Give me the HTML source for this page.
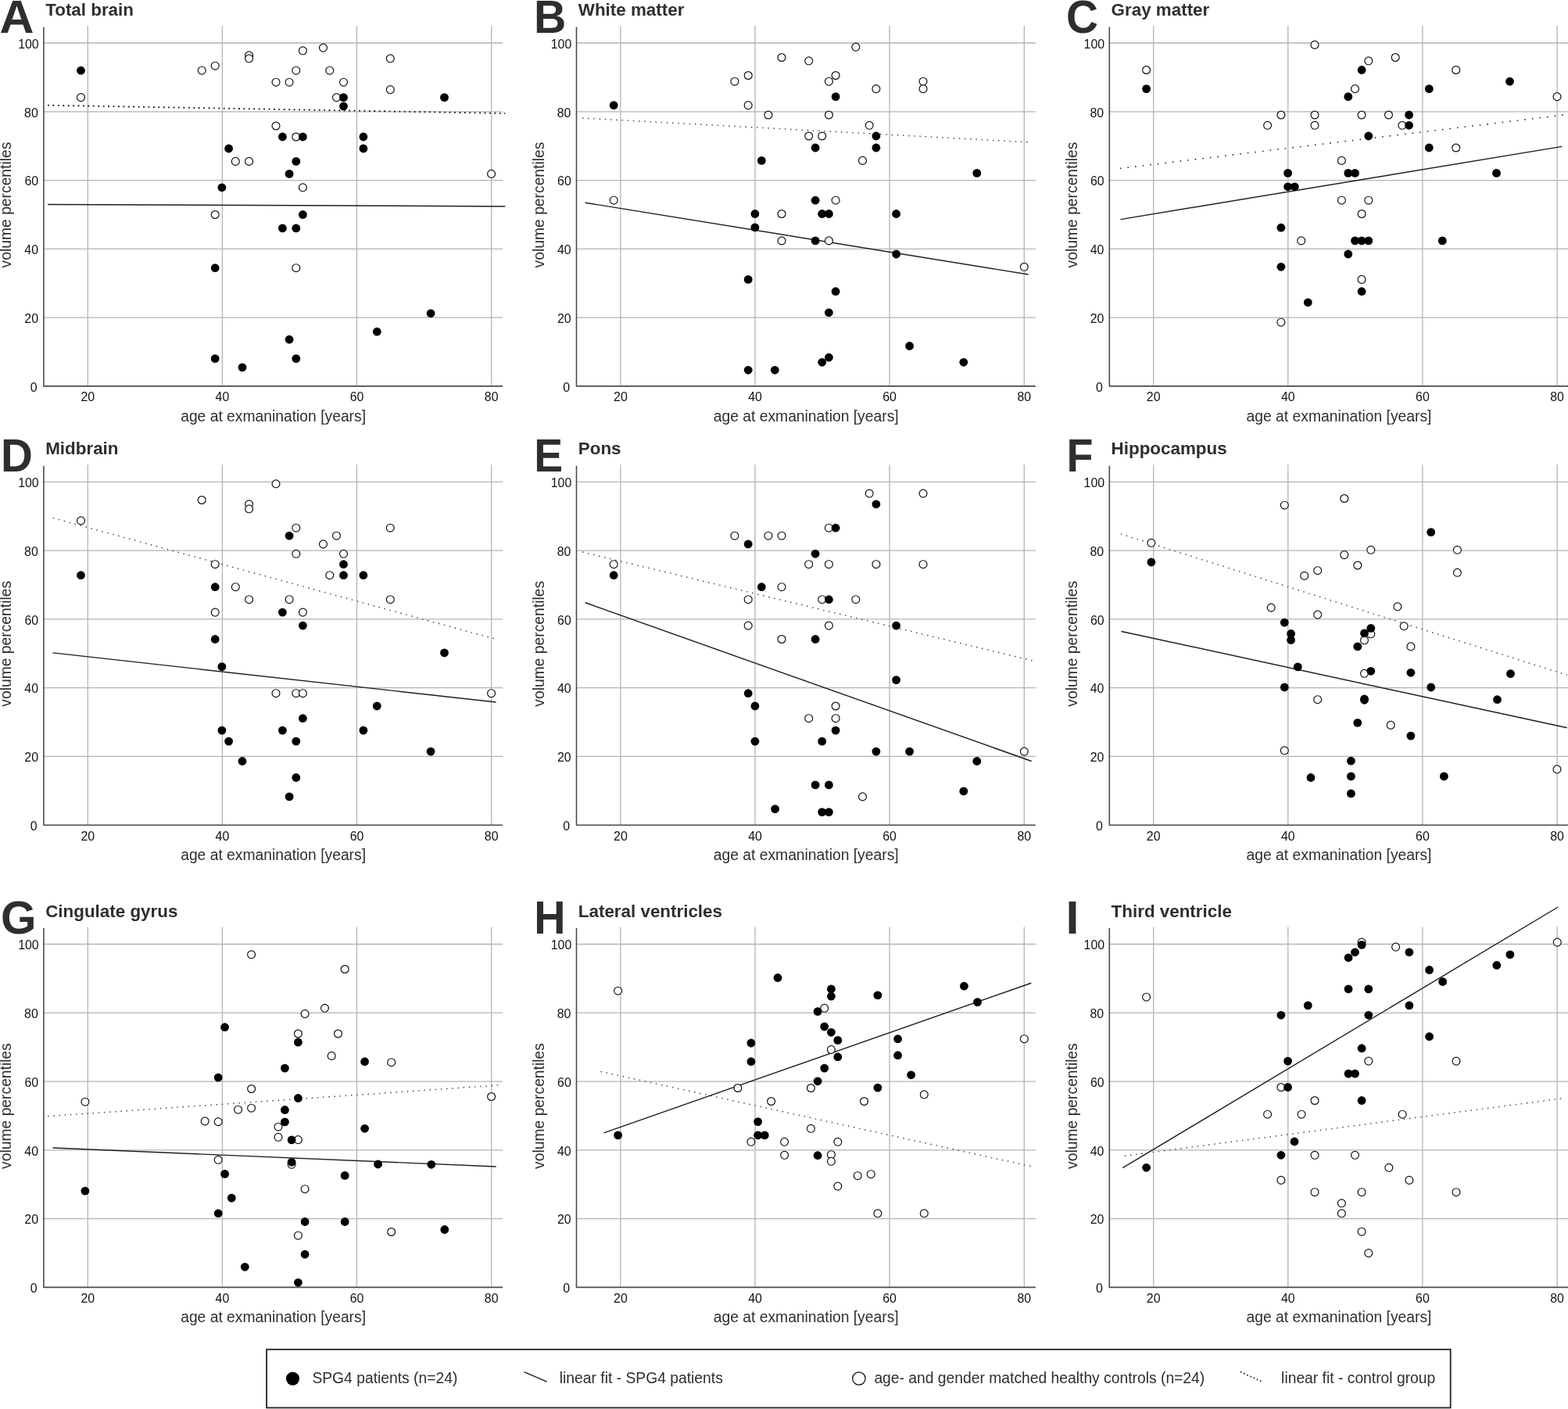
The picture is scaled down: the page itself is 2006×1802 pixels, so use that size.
<!DOCTYPE html>
<html><head><meta charset="utf-8"><title>Brain volume percentiles</title>
<style>html,body{margin:0;padding:0;background:#fff;overflow:hidden;}svg{display:block;}text{font-family:'Liberation Sans', Arial, Helvetica, sans-serif;}.lt{font-size:61px;font-weight:bold;fill:#2e2e2e;}.ti{font-size:22.4px;font-weight:bold;fill:#2e2e2e;}.tk{font-size:15.9px;fill:#111;}.at{font-size:19.3px;fill:#2e2e2e;}.lg{font-size:19.3px;fill:#2e2e2e;}.gr{stroke:#b4b4b4;stroke-width:1.3;fill:none;}.ax{stroke:#4a4a4a;stroke-width:1.6;fill:none;stroke-linejoin:round;}.fs{stroke:#1e1e1e;stroke-width:1.45;fill:none;}.fd{stroke:#4a4a4a;stroke-width:1.5;fill:none;}.mf{fill:#000;}.mo{fill:#fff;stroke:#111;stroke-width:1.2;}</style></head><body>
<svg width="2006" height="1802" viewBox="0 0 2006 1802">
<rect x="0" y="0" width="2006" height="1802" fill="#fff"/>
<g id="pA">
<text class="lt" transform="translate(-0.50 42.00) scale(0.9976 0.981)" x="0" y="0">A</text>
<text class="ti" x="58.2" y="20.0">Total brain</text>
<path class="gr" d="M55.9 406.1H643.2 M55.9 318.3H643.2 M55.9 230.6H643.2 M55.9 142.8H643.2 M55.9 55.0H643.2 M112.3 33.0V493.9 M284.4 33.0V493.9 M456.5 33.0V493.9 M628.7 33.0V493.9"/>
<path class="ax" d="M55.9 34.5V493.9H643.2"/>
<text class="tk" x="47.5" y="500.6" text-anchor="end">0</text>
<text class="tk" x="49.0" y="412.8" text-anchor="end">20</text>
<text class="tk" x="49.0" y="325.0" text-anchor="end">40</text>
<text class="tk" x="49.2" y="237.3" text-anchor="end">60</text>
<text class="tk" x="48.8" y="149.5" text-anchor="end">80</text>
<text class="tk" x="49.7" y="61.7" text-anchor="end">100</text>
<text class="tk" x="112.3" y="513.3" text-anchor="middle">20</text>
<text class="tk" x="284.4" y="513.3" text-anchor="middle">40</text>
<text class="tk" x="456.5" y="513.3" text-anchor="middle">60</text>
<text class="tk" x="628.7" y="513.3" text-anchor="middle">80</text>
<text class="at" x="349.6" y="538.8" text-anchor="middle">age at exmanination [years]</text>
<text class="at" transform="translate(14.3 262.0) rotate(-90)" text-anchor="middle">volume percentiles</text>
<path class="fs" d="M61.1 261.5L646.3 263.9"/>
<path class="fd" style="stroke:#1e1e1e;stroke-width:1.9;stroke-dasharray:1.9 4.52" d="M61.1 134.6L646.3 145.0"/>
<circle class="mo" cx="103.5" cy="124.6" r="4.95"/>
<circle class="mo" cx="258.2" cy="90.2" r="4.95"/>
<circle class="mo" cx="275.2" cy="84.2" r="4.95"/>
<circle class="mo" cx="318.6" cy="70.8" r="4.95"/>
<circle class="mo" cx="318.6" cy="74.8" r="4.95"/>
<circle class="mo" cx="353.0" cy="105.2" r="4.95"/>
<circle class="mo" cx="370.1" cy="105.2" r="4.95"/>
<circle class="mo" cx="378.8" cy="90.2" r="4.95"/>
<circle class="mo" cx="387.4" cy="64.8" r="4.95"/>
<circle class="mo" cx="413.5" cy="61.1" r="4.95"/>
<circle class="mo" cx="421.8" cy="90.2" r="4.95"/>
<circle class="mo" cx="439.5" cy="105.2" r="4.95"/>
<circle class="mo" cx="430.5" cy="124.6" r="4.95"/>
<circle class="mo" cx="499.3" cy="74.8" r="4.95"/>
<circle class="mo" cx="499.3" cy="114.6" r="4.95"/>
<circle class="mo" cx="353.0" cy="161.0" r="4.95"/>
<circle class="mo" cx="378.8" cy="175.0" r="4.95"/>
<circle class="mo" cx="301.3" cy="206.4" r="4.95"/>
<circle class="mo" cx="318.6" cy="206.4" r="4.95"/>
<circle class="mo" cx="387.4" cy="239.8" r="4.95"/>
<circle class="mo" cx="275.2" cy="274.5" r="4.95"/>
<circle class="mo" cx="378.8" cy="342.7" r="4.95"/>
<circle class="mo" cx="628.6" cy="222.4" r="4.95"/>
<circle class="mf" cx="103.5" cy="90.2" r="5.4"/>
<circle class="mf" cx="283.9" cy="239.8" r="5.4"/>
<circle class="mf" cx="292.6" cy="190.0" r="5.4"/>
<circle class="mf" cx="275.2" cy="342.7" r="5.4"/>
<circle class="mf" cx="275.2" cy="458.6" r="5.4"/>
<circle class="mf" cx="310.0" cy="469.9" r="5.4"/>
<circle class="mf" cx="361.4" cy="175.0" r="5.4"/>
<circle class="mf" cx="387.4" cy="175.0" r="5.4"/>
<circle class="mf" cx="378.8" cy="206.4" r="5.4"/>
<circle class="mf" cx="370.1" cy="222.4" r="5.4"/>
<circle class="mf" cx="387.4" cy="274.5" r="5.4"/>
<circle class="mf" cx="361.4" cy="291.9" r="5.4"/>
<circle class="mf" cx="378.8" cy="291.9" r="5.4"/>
<circle class="mf" cx="378.8" cy="458.6" r="5.4"/>
<circle class="mf" cx="370.1" cy="434.2" r="5.4"/>
<circle class="mf" cx="439.5" cy="124.6" r="5.4"/>
<circle class="mf" cx="439.5" cy="135.9" r="5.4"/>
<circle class="mf" cx="464.9" cy="175.0" r="5.4"/>
<circle class="mf" cx="464.9" cy="190.0" r="5.4"/>
<circle class="mf" cx="482.3" cy="424.2" r="5.4"/>
<circle class="mf" cx="551.1" cy="400.8" r="5.4"/>
<circle class="mf" cx="568.5" cy="124.6" r="5.4"/>
</g>
<g id="pB">
<text class="lt" transform="translate(682.94 42.00) scale(0.9382 0.981)" x="0" y="0">B</text>
<text class="ti" x="739.8" y="20.0">White matter</text>
<path class="gr" d="M737.5 406.1H1324.8 M737.5 318.3H1324.8 M737.5 230.6H1324.8 M737.5 142.8H1324.8 M737.5 55.0H1324.8 M793.9 33.0V493.9 M966.0 33.0V493.9 M1138.1 33.0V493.9 M1310.3 33.0V493.9"/>
<path class="ax" d="M737.5 34.5V493.9H1324.8"/>
<text class="tk" x="729.1" y="500.6" text-anchor="end">0</text>
<text class="tk" x="730.6" y="412.8" text-anchor="end">20</text>
<text class="tk" x="730.6" y="325.0" text-anchor="end">40</text>
<text class="tk" x="730.8" y="237.3" text-anchor="end">60</text>
<text class="tk" x="730.4" y="149.5" text-anchor="end">80</text>
<text class="tk" x="731.3" y="61.7" text-anchor="end">100</text>
<text class="tk" x="793.9" y="513.3" text-anchor="middle">20</text>
<text class="tk" x="966.0" y="513.3" text-anchor="middle">40</text>
<text class="tk" x="1138.1" y="513.3" text-anchor="middle">60</text>
<text class="tk" x="1310.3" y="513.3" text-anchor="middle">80</text>
<text class="at" x="1031.2" y="538.8" text-anchor="middle">age at exmanination [years]</text>
<text class="at" transform="translate(695.9 262.0) rotate(-90)" text-anchor="middle">volume percentiles</text>
<path class="fs" d="M748.5 259.2L1315.6 351.0"/>
<path class="fd" style="stroke:#4a4a4a;stroke-width:1.5;stroke-dasharray:1.5 5.70" d="M745.1 151.0L1317.9 182.0"/>
<circle class="mo" cx="785.2" cy="256.2" r="4.95"/>
<circle class="mo" cx="939.9" cy="104.2" r="4.95"/>
<circle class="mo" cx="957.2" cy="96.5" r="4.95"/>
<circle class="mo" cx="957.2" cy="134.6" r="4.95"/>
<circle class="mo" cx="982.9" cy="147.0" r="4.95"/>
<circle class="mo" cx="1000.0" cy="73.5" r="4.95"/>
<circle class="mo" cx="1000.0" cy="273.5" r="4.95"/>
<circle class="mo" cx="1000.0" cy="307.9" r="4.95"/>
<circle class="mo" cx="1034.7" cy="77.8" r="4.95"/>
<circle class="mo" cx="1034.7" cy="174.0" r="4.95"/>
<circle class="mo" cx="1051.7" cy="174.0" r="4.95"/>
<circle class="mo" cx="1060.4" cy="104.2" r="4.95"/>
<circle class="mo" cx="1069.1" cy="96.5" r="4.95"/>
<circle class="mo" cx="1060.4" cy="147.0" r="4.95"/>
<circle class="mo" cx="1069.1" cy="256.2" r="4.95"/>
<circle class="mo" cx="1060.4" cy="307.9" r="4.95"/>
<circle class="mo" cx="1094.8" cy="60.1" r="4.95"/>
<circle class="mo" cx="1103.5" cy="205.4" r="4.95"/>
<circle class="mo" cx="1112.2" cy="160.3" r="4.95"/>
<circle class="mo" cx="1120.9" cy="113.6" r="4.95"/>
<circle class="mo" cx="1181.0" cy="104.2" r="4.95"/>
<circle class="mo" cx="1181.0" cy="113.6" r="4.95"/>
<circle class="mo" cx="1310.3" cy="341.3" r="4.95"/>
<circle class="mf" cx="785.2" cy="134.6" r="5.4"/>
<circle class="mf" cx="957.2" cy="357.4" r="5.4"/>
<circle class="mf" cx="957.2" cy="473.3" r="5.4"/>
<circle class="mf" cx="991.3" cy="473.3" r="5.4"/>
<circle class="mf" cx="965.9" cy="273.5" r="5.4"/>
<circle class="mf" cx="965.9" cy="290.9" r="5.4"/>
<circle class="mf" cx="974.3" cy="205.4" r="5.4"/>
<circle class="mf" cx="1043.1" cy="189.0" r="5.4"/>
<circle class="mf" cx="1043.1" cy="256.2" r="5.4"/>
<circle class="mf" cx="1043.1" cy="307.9" r="5.4"/>
<circle class="mf" cx="1051.7" cy="273.5" r="5.4"/>
<circle class="mf" cx="1060.4" cy="273.5" r="5.4"/>
<circle class="mf" cx="1069.1" cy="123.6" r="5.4"/>
<circle class="mf" cx="1069.1" cy="372.7" r="5.4"/>
<circle class="mf" cx="1060.4" cy="399.8" r="5.4"/>
<circle class="mf" cx="1060.4" cy="457.2" r="5.4"/>
<circle class="mf" cx="1051.7" cy="463.3" r="5.4"/>
<circle class="mf" cx="1120.9" cy="174.0" r="5.4"/>
<circle class="mf" cx="1120.9" cy="189.0" r="5.4"/>
<circle class="mf" cx="1146.6" cy="273.5" r="5.4"/>
<circle class="mf" cx="1146.6" cy="325.0" r="5.4"/>
<circle class="mf" cx="1163.6" cy="442.5" r="5.4"/>
<circle class="mf" cx="1232.8" cy="463.3" r="5.4"/>
<circle class="mf" cx="1249.8" cy="221.4" r="5.4"/>
</g>
<g id="pC">
<text class="lt" transform="translate(1364.08 42.00) scale(0.9295 0.981)" x="0" y="0">C</text>
<text class="ti" x="1421.6" y="20.0">Gray matter</text>
<path class="gr" d="M1419.3 406.1H2006.6 M1419.3 318.3H2006.6 M1419.3 230.6H2006.6 M1419.3 142.8H2006.6 M1419.3 55.0H2006.6 M1475.7 33.0V493.9 M1647.8 33.0V493.9 M1819.9 33.0V493.9 M1992.1 33.0V493.9"/>
<path class="ax" d="M1419.3 34.5V493.9H2006.6"/>
<text class="tk" x="1410.9" y="500.6" text-anchor="end">0</text>
<text class="tk" x="1412.4" y="412.8" text-anchor="end">20</text>
<text class="tk" x="1412.4" y="325.0" text-anchor="end">40</text>
<text class="tk" x="1412.6" y="237.3" text-anchor="end">60</text>
<text class="tk" x="1412.2" y="149.5" text-anchor="end">80</text>
<text class="tk" x="1413.1" y="61.7" text-anchor="end">100</text>
<text class="tk" x="1475.7" y="513.3" text-anchor="middle">20</text>
<text class="tk" x="1647.8" y="513.3" text-anchor="middle">40</text>
<text class="tk" x="1819.9" y="513.3" text-anchor="middle">60</text>
<text class="tk" x="1992.1" y="513.3" text-anchor="middle">80</text>
<text class="at" x="1713.0" y="538.8" text-anchor="middle">age at exmanination [years]</text>
<text class="at" transform="translate(1377.7 262.0) rotate(-90)" text-anchor="middle">volume percentiles</text>
<path class="fs" d="M1433.5 280.6L1998.3 187.4"/>
<path class="fd" style="stroke:#2a2a2a;stroke-width:1.6;stroke-dasharray:1.6 8.05" d="M1432.9 215.4L2000.7 147.0"/>
<circle class="mo" cx="1466.6" cy="89.5" r="4.95"/>
<circle class="mo" cx="1621.6" cy="160.3" r="4.95"/>
<circle class="mo" cx="1638.9" cy="147.0" r="4.95"/>
<circle class="mo" cx="1638.9" cy="412.2" r="4.95"/>
<circle class="mo" cx="1664.7" cy="307.9" r="4.95"/>
<circle class="mo" cx="1682.0" cy="57.4" r="4.95"/>
<circle class="mo" cx="1682.0" cy="147.0" r="4.95"/>
<circle class="mo" cx="1682.0" cy="160.3" r="4.95"/>
<circle class="mo" cx="1716.4" cy="205.4" r="4.95"/>
<circle class="mo" cx="1716.4" cy="256.2" r="4.95"/>
<circle class="mo" cx="1733.5" cy="113.6" r="4.95"/>
<circle class="mo" cx="1742.1" cy="147.0" r="4.95"/>
<circle class="mo" cx="1742.1" cy="273.5" r="4.95"/>
<circle class="mo" cx="1742.1" cy="357.4" r="4.95"/>
<circle class="mo" cx="1750.8" cy="77.8" r="4.95"/>
<circle class="mo" cx="1750.8" cy="256.2" r="4.95"/>
<circle class="mo" cx="1776.5" cy="147.0" r="4.95"/>
<circle class="mo" cx="1785.2" cy="73.5" r="4.95"/>
<circle class="mo" cx="1793.9" cy="160.3" r="4.95"/>
<circle class="mo" cx="1862.7" cy="89.5" r="4.95"/>
<circle class="mo" cx="1862.7" cy="189.0" r="4.95"/>
<circle class="mo" cx="1992.0" cy="123.6" r="4.95"/>
<circle class="mf" cx="1466.6" cy="113.6" r="5.4"/>
<circle class="mf" cx="1638.9" cy="291.2" r="5.4"/>
<circle class="mf" cx="1638.9" cy="341.3" r="5.4"/>
<circle class="mf" cx="1647.6" cy="221.4" r="5.4"/>
<circle class="mf" cx="1647.6" cy="238.8" r="5.4"/>
<circle class="mf" cx="1656.3" cy="238.8" r="5.4"/>
<circle class="mf" cx="1673.3" cy="386.8" r="5.4"/>
<circle class="mf" cx="1724.8" cy="123.6" r="5.4"/>
<circle class="mf" cx="1724.8" cy="221.4" r="5.4"/>
<circle class="mf" cx="1733.5" cy="221.4" r="5.4"/>
<circle class="mf" cx="1724.8" cy="325.0" r="5.4"/>
<circle class="mf" cx="1733.5" cy="307.9" r="5.4"/>
<circle class="mf" cx="1742.1" cy="307.9" r="5.4"/>
<circle class="mf" cx="1750.8" cy="307.9" r="5.4"/>
<circle class="mf" cx="1742.1" cy="89.5" r="5.4"/>
<circle class="mf" cx="1750.8" cy="174.0" r="5.4"/>
<circle class="mf" cx="1742.1" cy="372.7" r="5.4"/>
<circle class="mf" cx="1802.6" cy="147.0" r="5.4"/>
<circle class="mf" cx="1802.6" cy="160.3" r="5.4"/>
<circle class="mf" cx="1828.3" cy="113.6" r="5.4"/>
<circle class="mf" cx="1828.3" cy="189.0" r="5.4"/>
<circle class="mf" cx="1845.3" cy="307.9" r="5.4"/>
<circle class="mf" cx="1914.5" cy="221.4" r="5.4"/>
<circle class="mf" cx="1931.5" cy="104.2" r="5.4"/>
</g>
<g id="pD">
<text class="lt" transform="translate(1.00 603.30) scale(0.9278 0.981)" x="0" y="0">D</text>
<text class="ti" x="58.2" y="581.3">Midbrain</text>
<path class="gr" d="M55.9 967.4H643.2 M55.9 879.6H643.2 M55.9 791.9H643.2 M55.9 704.1H643.2 M55.9 616.3H643.2 M112.3 594.3V1055.2 M284.4 594.3V1055.2 M456.5 594.3V1055.2 M628.7 594.3V1055.2"/>
<path class="ax" d="M55.9 595.8V1055.2H643.2"/>
<text class="tk" x="47.5" y="1061.9" text-anchor="end">0</text>
<text class="tk" x="49.0" y="974.1" text-anchor="end">20</text>
<text class="tk" x="49.0" y="886.3" text-anchor="end">40</text>
<text class="tk" x="49.2" y="798.6" text-anchor="end">60</text>
<text class="tk" x="48.8" y="710.8" text-anchor="end">80</text>
<text class="tk" x="49.7" y="623.0" text-anchor="end">100</text>
<text class="tk" x="112.3" y="1074.6" text-anchor="middle">20</text>
<text class="tk" x="284.4" y="1074.6" text-anchor="middle">40</text>
<text class="tk" x="456.5" y="1074.6" text-anchor="middle">60</text>
<text class="tk" x="628.7" y="1074.6" text-anchor="middle">80</text>
<text class="at" x="349.6" y="1100.1" text-anchor="middle">age at exmanination [years]</text>
<text class="at" transform="translate(14.3 823.3) rotate(-90)" text-anchor="middle">volume percentiles</text>
<path class="fs" d="M67.5 834.9L634.6 898.0"/>
<path class="fd" style="stroke:#4a4a4a;stroke-width:1.5;stroke-dasharray:1.5 5.70" d="M67.8 662.5L634.6 817.5"/>
<circle class="mo" cx="103.5" cy="665.9" r="4.95"/>
<circle class="mo" cx="258.2" cy="639.5" r="4.95"/>
<circle class="mo" cx="275.2" cy="721.7" r="4.95"/>
<circle class="mo" cx="275.2" cy="783.1" r="4.95"/>
<circle class="mo" cx="301.3" cy="750.7" r="4.95"/>
<circle class="mo" cx="318.6" cy="644.8" r="4.95"/>
<circle class="mo" cx="318.6" cy="650.8" r="4.95"/>
<circle class="mo" cx="318.6" cy="766.7" r="4.95"/>
<circle class="mo" cx="353.0" cy="618.8" r="4.95"/>
<circle class="mo" cx="353.0" cy="886.7" r="4.95"/>
<circle class="mo" cx="370.1" cy="766.7" r="4.95"/>
<circle class="mo" cx="378.8" cy="675.2" r="4.95"/>
<circle class="mo" cx="378.8" cy="708.3" r="4.95"/>
<circle class="mo" cx="378.8" cy="886.7" r="4.95"/>
<circle class="mo" cx="387.4" cy="783.1" r="4.95"/>
<circle class="mo" cx="387.4" cy="886.7" r="4.95"/>
<circle class="mo" cx="413.5" cy="695.9" r="4.95"/>
<circle class="mo" cx="421.8" cy="735.7" r="4.95"/>
<circle class="mo" cx="430.5" cy="685.2" r="4.95"/>
<circle class="mo" cx="439.5" cy="708.3" r="4.95"/>
<circle class="mo" cx="499.3" cy="675.2" r="4.95"/>
<circle class="mo" cx="499.3" cy="766.7" r="4.95"/>
<circle class="mo" cx="628.6" cy="886.7" r="4.95"/>
<circle class="mf" cx="103.5" cy="735.7" r="5.4"/>
<circle class="mf" cx="275.2" cy="750.7" r="5.4"/>
<circle class="mf" cx="275.2" cy="817.5" r="5.4"/>
<circle class="mf" cx="283.9" cy="852.6" r="5.4"/>
<circle class="mf" cx="283.9" cy="934.1" r="5.4"/>
<circle class="mf" cx="292.6" cy="948.1" r="5.4"/>
<circle class="mf" cx="310.0" cy="973.5" r="5.4"/>
<circle class="mf" cx="361.4" cy="783.1" r="5.4"/>
<circle class="mf" cx="361.4" cy="934.1" r="5.4"/>
<circle class="mf" cx="370.1" cy="685.2" r="5.4"/>
<circle class="mf" cx="370.1" cy="1018.9" r="5.4"/>
<circle class="mf" cx="378.8" cy="948.1" r="5.4"/>
<circle class="mf" cx="378.8" cy="994.5" r="5.4"/>
<circle class="mf" cx="387.4" cy="800.1" r="5.4"/>
<circle class="mf" cx="387.4" cy="918.7" r="5.4"/>
<circle class="mf" cx="439.5" cy="721.7" r="5.4"/>
<circle class="mf" cx="439.5" cy="735.7" r="5.4"/>
<circle class="mf" cx="464.9" cy="735.7" r="5.4"/>
<circle class="mf" cx="464.9" cy="934.1" r="5.4"/>
<circle class="mf" cx="482.3" cy="903.0" r="5.4"/>
<circle class="mf" cx="551.1" cy="961.1" r="5.4"/>
<circle class="mf" cx="568.5" cy="834.9" r="5.4"/>
</g>
<g id="pE">
<text class="lt" transform="translate(683.26 603.30) scale(0.9067 0.981)" x="0" y="0">E</text>
<text class="ti" x="739.8" y="581.3">Pons</text>
<path class="gr" d="M737.5 967.4H1324.8 M737.5 879.6H1324.8 M737.5 791.9H1324.8 M737.5 704.1H1324.8 M737.5 616.3H1324.8 M793.9 594.3V1055.2 M966.0 594.3V1055.2 M1138.1 594.3V1055.2 M1310.3 594.3V1055.2"/>
<path class="ax" d="M737.5 595.8V1055.2H1324.8"/>
<text class="tk" x="729.1" y="1061.9" text-anchor="end">0</text>
<text class="tk" x="730.6" y="974.1" text-anchor="end">20</text>
<text class="tk" x="730.6" y="886.3" text-anchor="end">40</text>
<text class="tk" x="730.8" y="798.6" text-anchor="end">60</text>
<text class="tk" x="730.4" y="710.8" text-anchor="end">80</text>
<text class="tk" x="731.3" y="623.0" text-anchor="end">100</text>
<text class="tk" x="793.9" y="1074.6" text-anchor="middle">20</text>
<text class="tk" x="966.0" y="1074.6" text-anchor="middle">40</text>
<text class="tk" x="1138.1" y="1074.6" text-anchor="middle">60</text>
<text class="tk" x="1310.3" y="1074.6" text-anchor="middle">80</text>
<text class="at" x="1031.2" y="1100.1" text-anchor="middle">age at exmanination [years]</text>
<text class="at" transform="translate(695.9 823.3) rotate(-90)" text-anchor="middle">volume percentiles</text>
<path class="fs" d="M748.8 770.8L1319.6 973.5"/>
<path class="fd" style="stroke:#4a4a4a;stroke-width:1.5;stroke-dasharray:1.5 5.70" d="M745.1 706.0L1323.9 845.6"/>
<circle class="mo" cx="785.2" cy="721.7" r="4.95"/>
<circle class="mo" cx="939.9" cy="685.2" r="4.95"/>
<circle class="mo" cx="957.2" cy="766.7" r="4.95"/>
<circle class="mo" cx="957.2" cy="800.1" r="4.95"/>
<circle class="mo" cx="982.9" cy="685.2" r="4.95"/>
<circle class="mo" cx="1000.0" cy="685.2" r="4.95"/>
<circle class="mo" cx="1000.0" cy="750.7" r="4.95"/>
<circle class="mo" cx="1000.0" cy="817.5" r="4.95"/>
<circle class="mo" cx="1034.7" cy="721.7" r="4.95"/>
<circle class="mo" cx="1034.7" cy="918.7" r="4.95"/>
<circle class="mo" cx="1051.7" cy="766.7" r="4.95"/>
<circle class="mo" cx="1060.4" cy="675.2" r="4.95"/>
<circle class="mo" cx="1060.4" cy="721.7" r="4.95"/>
<circle class="mo" cx="1060.4" cy="800.1" r="4.95"/>
<circle class="mo" cx="1069.1" cy="903.0" r="4.95"/>
<circle class="mo" cx="1069.1" cy="918.7" r="4.95"/>
<circle class="mo" cx="1094.8" cy="766.7" r="4.95"/>
<circle class="mo" cx="1103.5" cy="1018.9" r="4.95"/>
<circle class="mo" cx="1112.2" cy="631.1" r="4.95"/>
<circle class="mo" cx="1120.9" cy="721.7" r="4.95"/>
<circle class="mo" cx="1181.0" cy="631.1" r="4.95"/>
<circle class="mo" cx="1181.0" cy="721.7" r="4.95"/>
<circle class="mo" cx="1310.3" cy="961.1" r="4.95"/>
<circle class="mf" cx="785.2" cy="735.7" r="5.4"/>
<circle class="mf" cx="957.2" cy="695.9" r="5.4"/>
<circle class="mf" cx="957.2" cy="886.7" r="5.4"/>
<circle class="mf" cx="965.9" cy="903.0" r="5.4"/>
<circle class="mf" cx="965.9" cy="948.1" r="5.4"/>
<circle class="mf" cx="974.3" cy="750.7" r="5.4"/>
<circle class="mf" cx="991.6" cy="1034.6" r="5.4"/>
<circle class="mf" cx="1043.1" cy="708.3" r="5.4"/>
<circle class="mf" cx="1043.1" cy="817.5" r="5.4"/>
<circle class="mf" cx="1043.1" cy="1003.9" r="5.4"/>
<circle class="mf" cx="1051.7" cy="948.1" r="5.4"/>
<circle class="mf" cx="1051.7" cy="1038.6" r="5.4"/>
<circle class="mf" cx="1060.4" cy="766.7" r="5.4"/>
<circle class="mf" cx="1060.4" cy="1003.9" r="5.4"/>
<circle class="mf" cx="1060.4" cy="1038.6" r="5.4"/>
<circle class="mf" cx="1069.1" cy="675.2" r="5.4"/>
<circle class="mf" cx="1069.1" cy="934.1" r="5.4"/>
<circle class="mf" cx="1120.9" cy="644.8" r="5.4"/>
<circle class="mf" cx="1120.9" cy="961.1" r="5.4"/>
<circle class="mf" cx="1146.6" cy="800.1" r="5.4"/>
<circle class="mf" cx="1146.6" cy="869.6" r="5.4"/>
<circle class="mf" cx="1163.6" cy="961.1" r="5.4"/>
<circle class="mf" cx="1232.8" cy="1011.9" r="5.4"/>
<circle class="mf" cx="1249.8" cy="973.5" r="5.4"/>
</g>
<g id="pF">
<text class="lt" transform="translate(1364.56 603.30) scale(0.9129 0.981)" x="0" y="0">F</text>
<text class="ti" x="1421.6" y="581.3">Hippocampus</text>
<path class="gr" d="M1419.3 967.4H2006.6 M1419.3 879.6H2006.6 M1419.3 791.9H2006.6 M1419.3 704.1H2006.6 M1419.3 616.3H2006.6 M1475.7 594.3V1055.2 M1647.8 594.3V1055.2 M1819.9 594.3V1055.2 M1992.1 594.3V1055.2"/>
<path class="ax" d="M1419.3 595.8V1055.2H2006.6"/>
<text class="tk" x="1410.9" y="1061.9" text-anchor="end">0</text>
<text class="tk" x="1412.4" y="974.1" text-anchor="end">20</text>
<text class="tk" x="1412.4" y="886.3" text-anchor="end">40</text>
<text class="tk" x="1412.6" y="798.6" text-anchor="end">60</text>
<text class="tk" x="1412.2" y="710.8" text-anchor="end">80</text>
<text class="tk" x="1413.1" y="623.0" text-anchor="end">100</text>
<text class="tk" x="1475.7" y="1074.6" text-anchor="middle">20</text>
<text class="tk" x="1647.8" y="1074.6" text-anchor="middle">40</text>
<text class="tk" x="1819.9" y="1074.6" text-anchor="middle">60</text>
<text class="tk" x="1992.1" y="1074.6" text-anchor="middle">80</text>
<text class="at" x="1713.0" y="1100.1" text-anchor="middle">age at exmanination [years]</text>
<text class="at" transform="translate(1377.7 823.3) rotate(-90)" text-anchor="middle">volume percentiles</text>
<path class="fs" d="M1434.5 807.5L2004.7 930.7"/>
<path class="fd" style="stroke:#4a4a4a;stroke-width:1.5;stroke-dasharray:1.5 5.70" d="M1433.9 682.9L2004.7 863.3"/>
<circle class="mo" cx="1472.9" cy="694.3" r="4.95"/>
<circle class="mo" cx="1626.2" cy="777.1" r="4.95"/>
<circle class="mo" cx="1643.3" cy="646.2" r="4.95"/>
<circle class="mo" cx="1643.3" cy="959.8" r="4.95"/>
<circle class="mo" cx="1668.7" cy="736.4" r="4.95"/>
<circle class="mo" cx="1685.7" cy="729.7" r="4.95"/>
<circle class="mo" cx="1685.7" cy="786.1" r="4.95"/>
<circle class="mo" cx="1685.7" cy="894.7" r="4.95"/>
<circle class="mo" cx="1719.8" cy="637.5" r="4.95"/>
<circle class="mo" cx="1719.8" cy="709.6" r="4.95"/>
<circle class="mo" cx="1736.8" cy="723.0" r="4.95"/>
<circle class="mo" cx="1745.5" cy="818.8" r="4.95"/>
<circle class="mo" cx="1745.5" cy="861.3" r="4.95"/>
<circle class="mo" cx="1753.8" cy="703.3" r="4.95"/>
<circle class="mo" cx="1753.8" cy="810.8" r="4.95"/>
<circle class="mo" cx="1779.2" cy="927.4" r="4.95"/>
<circle class="mo" cx="1787.9" cy="775.8" r="4.95"/>
<circle class="mo" cx="1796.2" cy="800.8" r="4.95"/>
<circle class="mo" cx="1804.9" cy="826.9" r="4.95"/>
<circle class="mo" cx="1864.4" cy="703.3" r="4.95"/>
<circle class="mo" cx="1864.4" cy="732.3" r="4.95"/>
<circle class="mo" cx="1992.0" cy="983.8" r="4.95"/>
<circle class="mf" cx="1472.9" cy="719.0" r="5.4"/>
<circle class="mf" cx="1643.3" cy="796.1" r="5.4"/>
<circle class="mf" cx="1651.6" cy="810.5" r="5.4"/>
<circle class="mf" cx="1651.6" cy="818.5" r="5.4"/>
<circle class="mf" cx="1643.3" cy="879.0" r="5.4"/>
<circle class="mf" cx="1660.3" cy="852.9" r="5.4"/>
<circle class="mf" cx="1677.0" cy="994.5" r="5.4"/>
<circle class="mf" cx="1728.4" cy="973.2" r="5.4"/>
<circle class="mf" cx="1728.4" cy="992.9" r="5.4"/>
<circle class="mf" cx="1728.4" cy="1014.9" r="5.4"/>
<circle class="mf" cx="1736.8" cy="826.9" r="5.4"/>
<circle class="mf" cx="1736.8" cy="924.4" r="5.4"/>
<circle class="mf" cx="1745.5" cy="809.8" r="5.4"/>
<circle class="mf" cx="1745.5" cy="894.0" r="5.4"/>
<circle class="mf" cx="1745.5" cy="895.3" r="5.4"/>
<circle class="mf" cx="1753.8" cy="803.5" r="5.4"/>
<circle class="mf" cx="1753.8" cy="858.3" r="5.4"/>
<circle class="mf" cx="1804.9" cy="860.3" r="5.4"/>
<circle class="mf" cx="1804.9" cy="941.1" r="5.4"/>
<circle class="mf" cx="1830.7" cy="680.6" r="5.4"/>
<circle class="mf" cx="1830.7" cy="879.0" r="5.4"/>
<circle class="mf" cx="1847.4" cy="992.9" r="5.4"/>
<circle class="mf" cx="1915.5" cy="894.7" r="5.4"/>
<circle class="mf" cx="1932.5" cy="861.6" r="5.4"/>
</g>
<g id="pG">
<text class="lt" transform="translate(1.10 1194.30) scale(0.9587 0.981)" x="0" y="0">G</text>
<text class="ti" x="58.2" y="1172.5">Cingulate gyrus</text>
<path class="gr" d="M55.9 1558.6H643.2 M55.9 1470.8H643.2 M55.9 1383.1H643.2 M55.9 1295.3H643.2 M55.9 1207.5H643.2 M112.3 1185.5V1646.4 M284.4 1185.5V1646.4 M456.5 1185.5V1646.4 M628.7 1185.5V1646.4"/>
<path class="ax" d="M55.9 1187.0V1646.4H643.2"/>
<text class="tk" x="47.5" y="1653.1" text-anchor="end">0</text>
<text class="tk" x="49.0" y="1565.3" text-anchor="end">20</text>
<text class="tk" x="49.0" y="1477.5" text-anchor="end">40</text>
<text class="tk" x="49.2" y="1389.8" text-anchor="end">60</text>
<text class="tk" x="48.8" y="1302.0" text-anchor="end">80</text>
<text class="tk" x="49.7" y="1214.2" text-anchor="end">100</text>
<text class="tk" x="112.3" y="1665.8" text-anchor="middle">20</text>
<text class="tk" x="284.4" y="1665.8" text-anchor="middle">40</text>
<text class="tk" x="456.5" y="1665.8" text-anchor="middle">60</text>
<text class="tk" x="628.7" y="1665.8" text-anchor="middle">80</text>
<text class="at" x="349.6" y="1691.3" text-anchor="middle">age at exmanination [years]</text>
<text class="at" transform="translate(14.3 1414.5) rotate(-90)" text-anchor="middle">volume percentiles</text>
<path class="fs" d="M67.5 1468.0L634.6 1492.0"/>
<path class="fd" style="stroke:#4a4a4a;stroke-width:1.5;stroke-dasharray:1.5 5.70" d="M61.1 1427.6L638.6 1387.8"/>
<circle class="mo" cx="108.9" cy="1409.2" r="4.95"/>
<circle class="mo" cx="262.2" cy="1433.9" r="4.95"/>
<circle class="mo" cx="279.2" cy="1434.6" r="4.95"/>
<circle class="mo" cx="279.2" cy="1483.3" r="4.95"/>
<circle class="mo" cx="304.6" cy="1419.2" r="4.95"/>
<circle class="mo" cx="321.6" cy="1220.8" r="4.95"/>
<circle class="mo" cx="321.6" cy="1392.5" r="4.95"/>
<circle class="mo" cx="321.6" cy="1417.2" r="4.95"/>
<circle class="mo" cx="356.0" cy="1441.2" r="4.95"/>
<circle class="mo" cx="356.0" cy="1454.3" r="4.95"/>
<circle class="mo" cx="373.1" cy="1489.3" r="4.95"/>
<circle class="mo" cx="381.4" cy="1322.0" r="4.95"/>
<circle class="mo" cx="381.4" cy="1457.6" r="4.95"/>
<circle class="mo" cx="381.4" cy="1580.2" r="4.95"/>
<circle class="mo" cx="390.1" cy="1296.6" r="4.95"/>
<circle class="mo" cx="390.1" cy="1520.7" r="4.95"/>
<circle class="mo" cx="415.5" cy="1289.3" r="4.95"/>
<circle class="mo" cx="424.2" cy="1350.4" r="4.95"/>
<circle class="mo" cx="432.5" cy="1322.0" r="4.95"/>
<circle class="mo" cx="441.2" cy="1239.5" r="4.95"/>
<circle class="mo" cx="500.7" cy="1358.7" r="4.95"/>
<circle class="mo" cx="500.7" cy="1575.5" r="4.95"/>
<circle class="mo" cx="628.6" cy="1402.5" r="4.95"/>
<circle class="mf" cx="108.9" cy="1523.1" r="5.4"/>
<circle class="mf" cx="279.2" cy="1378.1" r="5.4"/>
<circle class="mf" cx="279.2" cy="1551.8" r="5.4"/>
<circle class="mf" cx="287.6" cy="1313.7" r="5.4"/>
<circle class="mf" cx="287.6" cy="1501.4" r="5.4"/>
<circle class="mf" cx="296.3" cy="1532.1" r="5.4"/>
<circle class="mf" cx="313.3" cy="1620.3" r="5.4"/>
<circle class="mf" cx="364.4" cy="1366.1" r="5.4"/>
<circle class="mf" cx="364.4" cy="1419.5" r="5.4"/>
<circle class="mf" cx="364.4" cy="1434.9" r="5.4"/>
<circle class="mf" cx="373.1" cy="1457.9" r="5.4"/>
<circle class="mf" cx="373.1" cy="1486.3" r="5.4"/>
<circle class="mf" cx="381.4" cy="1333.0" r="5.4"/>
<circle class="mf" cx="381.4" cy="1404.5" r="5.4"/>
<circle class="mf" cx="381.4" cy="1640.3" r="5.4"/>
<circle class="mf" cx="390.1" cy="1562.5" r="5.4"/>
<circle class="mf" cx="390.1" cy="1604.2" r="5.4"/>
<circle class="mf" cx="441.2" cy="1503.4" r="5.4"/>
<circle class="mf" cx="441.2" cy="1562.5" r="5.4"/>
<circle class="mf" cx="466.6" cy="1357.7" r="5.4"/>
<circle class="mf" cx="466.6" cy="1443.3" r="5.4"/>
<circle class="mf" cx="483.6" cy="1489.0" r="5.4"/>
<circle class="mf" cx="551.8" cy="1489.3" r="5.4"/>
<circle class="mf" cx="568.8" cy="1572.5" r="5.4"/>
</g>
<g id="pH">
<text class="lt" transform="translate(683.24 1194.30) scale(0.9139 0.981)" x="0" y="0">H</text>
<text class="ti" x="739.8" y="1172.5">Lateral ventricles</text>
<path class="gr" d="M737.5 1558.6H1324.8 M737.5 1470.8H1324.8 M737.5 1383.1H1324.8 M737.5 1295.3H1324.8 M737.5 1207.5H1324.8 M793.9 1185.5V1646.4 M966.0 1185.5V1646.4 M1138.1 1185.5V1646.4 M1310.3 1185.5V1646.4"/>
<path class="ax" d="M737.5 1187.0V1646.4H1324.8"/>
<text class="tk" x="729.1" y="1653.1" text-anchor="end">0</text>
<text class="tk" x="730.6" y="1565.3" text-anchor="end">20</text>
<text class="tk" x="730.6" y="1477.5" text-anchor="end">40</text>
<text class="tk" x="730.8" y="1389.8" text-anchor="end">60</text>
<text class="tk" x="730.4" y="1302.0" text-anchor="end">80</text>
<text class="tk" x="731.3" y="1214.2" text-anchor="end">100</text>
<text class="tk" x="793.9" y="1665.8" text-anchor="middle">20</text>
<text class="tk" x="966.0" y="1665.8" text-anchor="middle">40</text>
<text class="tk" x="1138.1" y="1665.8" text-anchor="middle">60</text>
<text class="tk" x="1310.3" y="1665.8" text-anchor="middle">80</text>
<text class="at" x="1031.2" y="1691.3" text-anchor="middle">age at exmanination [years]</text>
<text class="at" transform="translate(695.9 1414.5) rotate(-90)" text-anchor="middle">volume percentiles</text>
<path class="fs" d="M772.5 1448.9L1319.3 1257.2"/>
<path class="fd" style="stroke:#4a4a4a;stroke-width:1.5;stroke-dasharray:1.5 5.70" d="M768.5 1370.4L1321.9 1492.3"/>
<circle class="mo" cx="790.6" cy="1267.2" r="4.95"/>
<circle class="mo" cx="943.9" cy="1391.5" r="4.95"/>
<circle class="mo" cx="960.9" cy="1460.3" r="4.95"/>
<circle class="mo" cx="986.6" cy="1408.5" r="4.95"/>
<circle class="mo" cx="1003.6" cy="1460.3" r="4.95"/>
<circle class="mo" cx="1003.6" cy="1477.3" r="4.95"/>
<circle class="mo" cx="1037.4" cy="1391.5" r="4.95"/>
<circle class="mo" cx="1037.4" cy="1443.3" r="4.95"/>
<circle class="mo" cx="1054.7" cy="1289.3" r="4.95"/>
<circle class="mo" cx="1063.4" cy="1342.4" r="4.95"/>
<circle class="mo" cx="1063.4" cy="1476.7" r="4.95"/>
<circle class="mo" cx="1063.4" cy="1485.3" r="4.95"/>
<circle class="mo" cx="1071.8" cy="1460.3" r="4.95"/>
<circle class="mo" cx="1071.8" cy="1517.1" r="4.95"/>
<circle class="mo" cx="1097.2" cy="1503.7" r="4.95"/>
<circle class="mo" cx="1105.5" cy="1408.5" r="4.95"/>
<circle class="mo" cx="1114.2" cy="1501.7" r="4.95"/>
<circle class="mo" cx="1122.9" cy="1551.8" r="4.95"/>
<circle class="mo" cx="1182.3" cy="1399.8" r="4.95"/>
<circle class="mo" cx="1182.3" cy="1551.8" r="4.95"/>
<circle class="mo" cx="1310.3" cy="1328.7" r="4.95"/>
<circle class="mf" cx="790.6" cy="1451.9" r="5.4"/>
<circle class="mf" cx="960.9" cy="1334.0" r="5.4"/>
<circle class="mf" cx="960.9" cy="1357.7" r="5.4"/>
<circle class="mf" cx="969.6" cy="1434.6" r="5.4"/>
<circle class="mf" cx="969.6" cy="1451.9" r="5.4"/>
<circle class="mf" cx="978.3" cy="1451.9" r="5.4"/>
<circle class="mf" cx="995.0" cy="1250.5" r="5.4"/>
<circle class="mf" cx="1046.1" cy="1293.6" r="5.4"/>
<circle class="mf" cx="1046.1" cy="1382.8" r="5.4"/>
<circle class="mf" cx="1046.1" cy="1477.7" r="5.4"/>
<circle class="mf" cx="1054.7" cy="1313.0" r="5.4"/>
<circle class="mf" cx="1054.7" cy="1366.1" r="5.4"/>
<circle class="mf" cx="1063.4" cy="1264.9" r="5.4"/>
<circle class="mf" cx="1063.4" cy="1274.2" r="5.4"/>
<circle class="mf" cx="1063.4" cy="1320.3" r="5.4"/>
<circle class="mf" cx="1071.8" cy="1330.4" r="5.4"/>
<circle class="mf" cx="1071.8" cy="1351.7" r="5.4"/>
<circle class="mf" cx="1122.9" cy="1272.9" r="5.4"/>
<circle class="mf" cx="1122.9" cy="1391.1" r="5.4"/>
<circle class="mf" cx="1148.6" cy="1328.7" r="5.4"/>
<circle class="mf" cx="1148.6" cy="1349.7" r="5.4"/>
<circle class="mf" cx="1165.6" cy="1374.8" r="5.4"/>
<circle class="mf" cx="1233.4" cy="1261.2" r="5.4"/>
<circle class="mf" cx="1250.5" cy="1281.6" r="5.4"/>
</g>
<g id="pI">
<text class="lt" transform="translate(1363.60 1194.30) scale(1.0000 0.981)" x="0" y="0">I</text>
<text class="ti" x="1421.6" y="1172.5">Third ventricle</text>
<path class="gr" d="M1419.3 1558.6H2006.6 M1419.3 1470.8H2006.6 M1419.3 1383.1H2006.6 M1419.3 1295.3H2006.6 M1419.3 1207.5H2006.6 M1475.7 1185.5V1646.4 M1647.8 1185.5V1646.4 M1819.9 1185.5V1646.4 M1992.1 1185.5V1646.4"/>
<path class="ax" d="M1419.3 1187.0V1646.4H2006.6"/>
<text class="tk" x="1410.9" y="1653.1" text-anchor="end">0</text>
<text class="tk" x="1412.4" y="1565.3" text-anchor="end">20</text>
<text class="tk" x="1412.4" y="1477.5" text-anchor="end">40</text>
<text class="tk" x="1412.6" y="1389.8" text-anchor="end">60</text>
<text class="tk" x="1412.2" y="1302.0" text-anchor="end">80</text>
<text class="tk" x="1413.1" y="1214.2" text-anchor="end">100</text>
<text class="tk" x="1475.7" y="1665.8" text-anchor="middle">20</text>
<text class="tk" x="1647.8" y="1665.8" text-anchor="middle">40</text>
<text class="tk" x="1819.9" y="1665.8" text-anchor="middle">60</text>
<text class="tk" x="1992.1" y="1665.8" text-anchor="middle">80</text>
<text class="at" x="1713.0" y="1691.3" text-anchor="middle">age at exmanination [years]</text>
<text class="at" transform="translate(1377.7 1414.5) rotate(-90)" text-anchor="middle">volume percentiles</text>
<path class="fs" d="M1436.2 1493.7L1993.3 1160.0"/>
<path class="fd" style="stroke:#4a4a4a;stroke-width:1.5;stroke-dasharray:1.5 5.70" d="M1438.9 1478.3L2000.7 1404.5"/>
<circle class="mo" cx="1466.6" cy="1275.2" r="4.95"/>
<circle class="mo" cx="1621.6" cy="1425.2" r="4.95"/>
<circle class="mo" cx="1638.9" cy="1390.5" r="4.95"/>
<circle class="mo" cx="1638.9" cy="1509.4" r="4.95"/>
<circle class="mo" cx="1665.0" cy="1425.2" r="4.95"/>
<circle class="mo" cx="1682.0" cy="1407.5" r="4.95"/>
<circle class="mo" cx="1682.0" cy="1477.3" r="4.95"/>
<circle class="mo" cx="1682.0" cy="1524.7" r="4.95"/>
<circle class="mo" cx="1716.4" cy="1538.8" r="4.95"/>
<circle class="mo" cx="1716.4" cy="1551.8" r="4.95"/>
<circle class="mo" cx="1733.5" cy="1477.3" r="4.95"/>
<circle class="mo" cx="1742.1" cy="1205.1" r="4.95"/>
<circle class="mo" cx="1742.1" cy="1524.7" r="4.95"/>
<circle class="mo" cx="1742.1" cy="1575.2" r="4.95"/>
<circle class="mo" cx="1750.8" cy="1357.1" r="4.95"/>
<circle class="mo" cx="1750.8" cy="1602.6" r="4.95"/>
<circle class="mo" cx="1776.9" cy="1493.3" r="4.95"/>
<circle class="mo" cx="1785.6" cy="1211.1" r="4.95"/>
<circle class="mo" cx="1794.2" cy="1425.2" r="4.95"/>
<circle class="mo" cx="1802.9" cy="1509.4" r="4.95"/>
<circle class="mo" cx="1863.0" cy="1357.1" r="4.95"/>
<circle class="mo" cx="1863.0" cy="1524.7" r="4.95"/>
<circle class="mo" cx="1992.3" cy="1205.1" r="4.95"/>
<circle class="mf" cx="1466.6" cy="1493.3" r="5.4"/>
<circle class="mf" cx="1638.9" cy="1298.3" r="5.4"/>
<circle class="mf" cx="1638.9" cy="1477.3" r="5.4"/>
<circle class="mf" cx="1647.6" cy="1357.1" r="5.4"/>
<circle class="mf" cx="1647.6" cy="1390.5" r="5.4"/>
<circle class="mf" cx="1656.0" cy="1460.0" r="5.4"/>
<circle class="mf" cx="1673.3" cy="1285.9" r="5.4"/>
<circle class="mf" cx="1725.1" cy="1224.8" r="5.4"/>
<circle class="mf" cx="1725.1" cy="1264.9" r="5.4"/>
<circle class="mf" cx="1725.1" cy="1373.1" r="5.4"/>
<circle class="mf" cx="1733.5" cy="1217.8" r="5.4"/>
<circle class="mf" cx="1733.5" cy="1373.1" r="5.4"/>
<circle class="mf" cx="1742.1" cy="1208.4" r="5.4"/>
<circle class="mf" cx="1742.1" cy="1340.7" r="5.4"/>
<circle class="mf" cx="1742.1" cy="1407.5" r="5.4"/>
<circle class="mf" cx="1750.8" cy="1264.9" r="5.4"/>
<circle class="mf" cx="1750.8" cy="1298.3" r="5.4"/>
<circle class="mf" cx="1802.9" cy="1217.8" r="5.4"/>
<circle class="mf" cx="1802.9" cy="1285.9" r="5.4"/>
<circle class="mf" cx="1828.6" cy="1240.5" r="5.4"/>
<circle class="mf" cx="1828.6" cy="1325.7" r="5.4"/>
<circle class="mf" cx="1845.7" cy="1255.5" r="5.4"/>
<circle class="mf" cx="1914.8" cy="1234.5" r="5.4"/>
<circle class="mf" cx="1931.9" cy="1220.8" r="5.4"/>
</g>
<g id="legend">
<rect x="341.1" y="1725.8" width="1514.6" height="74.6" fill="#fff" stroke="#222" stroke-width="1.8"/>
<circle cx="374.5" cy="1763.1" r="8.6" fill="#000"/>
<text class="lg" x="399.4" y="1769.0">SPG4 patients (n=24)</text>
<path d="M670.6 1754.7L699.6 1767.2" stroke="#1a1a1a" stroke-width="1.3"/>
<text class="lg" x="715.8" y="1769.0">linear fit - SPG4 patients</text>
<circle cx="1098.9" cy="1763.0" r="8.2" fill="#fff" stroke="#000" stroke-width="1.2"/>
<text class="lg" x="1118.4" y="1769.0">age- and gender matched healthy controls (n=24)</text>
<path d="M1586.9 1754.5L1613.5 1766.6" stroke="#1a1a1a" stroke-width="1.8" stroke-dasharray="1.6 3.0"/>
<text class="lg" x="1639.1" y="1769.0">linear fit - control group</text>
</g>
</svg></body></html>
